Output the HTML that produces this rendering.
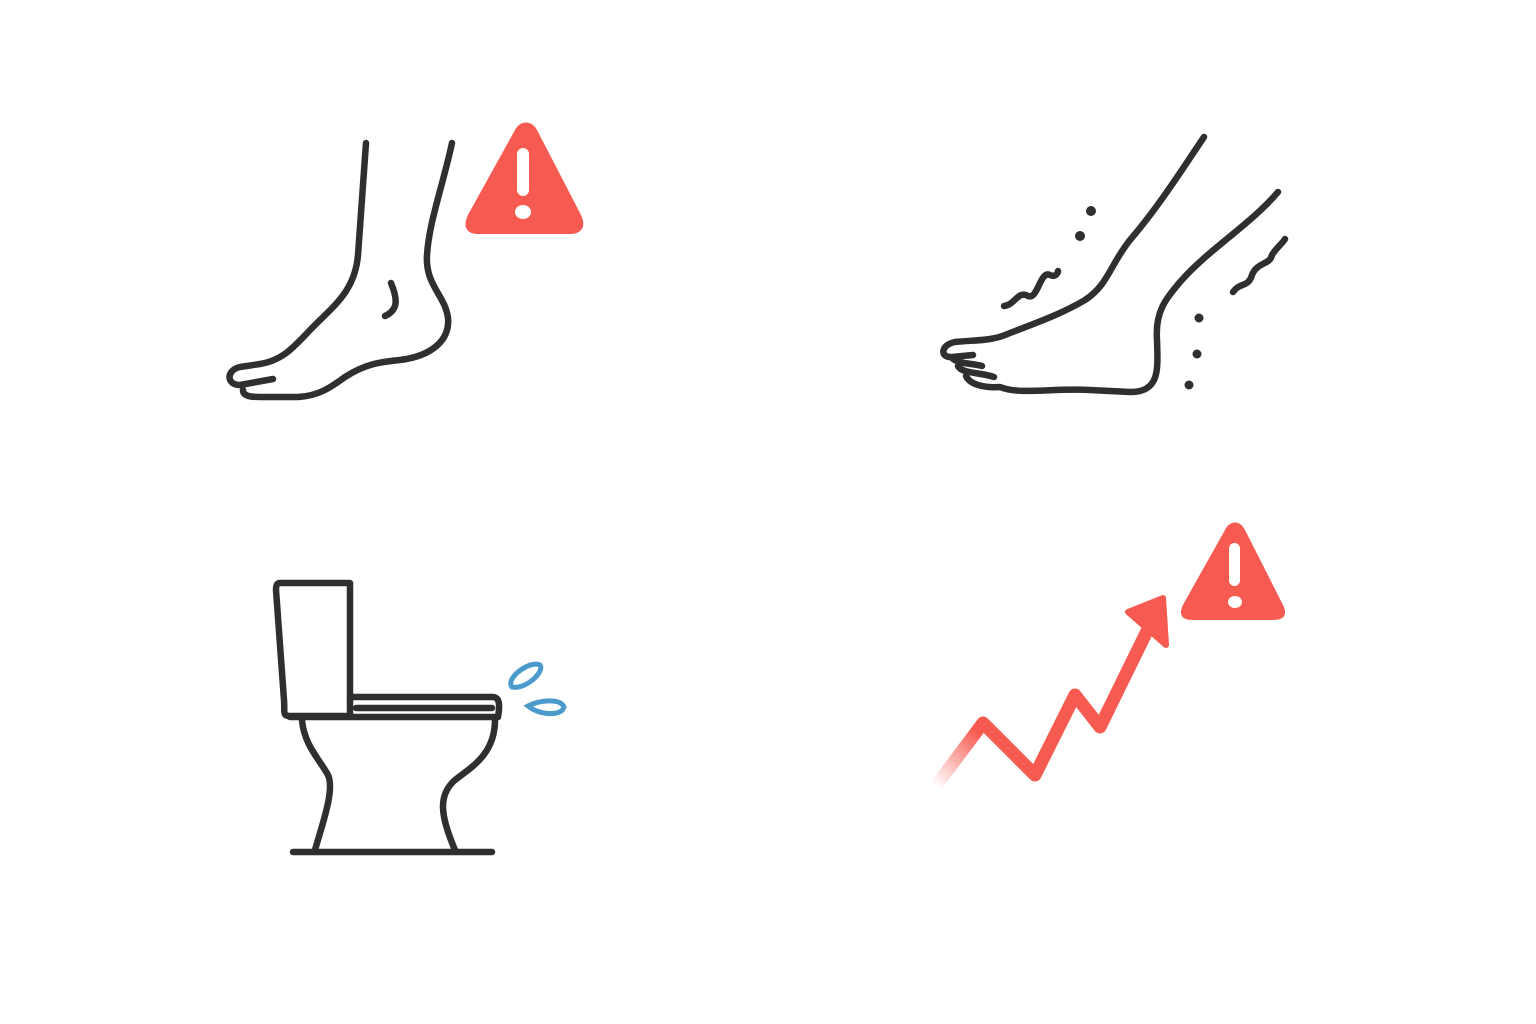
<!DOCTYPE html>
<html><head><style>html,body{margin:0;padding:0;background:#fff}svg{display:block}</style></head>
<body>
<svg width="1536" height="1024" viewBox="0 0 1536 1024" xmlns="http://www.w3.org/2000/svg">
<defs>
<linearGradient id="fade" gradientUnits="userSpaceOnUse" x1="935" y1="785" x2="990" y2="720">
<stop offset="0" stop-color="#f65a50" stop-opacity="0"/>
<stop offset="0.8" stop-color="#f65a50" stop-opacity="1"/>
</linearGradient>
</defs>
<g fill="none" stroke="#2f2f2f" stroke-width="6.5" stroke-linecap="round" stroke-linejoin="round">
<!-- left foot -->
<path d="M366,143 L358,255 C355,290 335,305 315,325 C295,345 285,360 260,364 L240,367 C226,370 226,385 240,385 L273,379"/>
<path d="M243,390 C243,396 250,397 260,397 L298,397 C318,396 330,388 345,377 C365,364 380,362 400,360 C432,356 450,340 448,318 C445,295 425,285 427,255 C429,222 443,185 452,143"/>
<path d="M391,283 C398,300 398,310 385,316"/>
<!-- right foot -->
<path d="M1204,137 C1185,165 1160,205 1130,240 C1110,265 1108,285 1085,300 C1060,315 1030,325 1005,335 C990,341 975,340 955,342 C940,345 940,358 952,357 L973,355"/>
<path d="M952,358 C958,364 970,363 982,366 M958,366 C962,374 980,372 994,377 M966,376 C970,385 985,388 1000,387 C1020,395 1050,388 1090,390 L1130,392 C1160,392 1158,370 1157,340 C1155,312 1165,300 1180,282 C1210,248 1250,225 1278,192"/>
<path d="M1004,306 C1015,305 1018,290 1028,296 C1038,300 1040,270 1050,275 C1056,278 1058,272 1058,271"/>
<path d="M1233,292 C1240,282 1248,288 1252,275 C1257,262 1270,265 1272,255 C1276,248 1282,244 1285,239"/>
<!-- toilet -->
<path d="M280,583 L350,583 L350,716 L290,716 C282,716 285,712 284,700 L276,590 C276,585 277,583 280,583 Z"/>
<path d="M350,697 L492,697 C500,697 500,705 498,717 L290,717"/>
<path d="M356,708 L492,708"/>
<path d="M302,720 C304,745 320,760 328,775 C335,790 322,825 315,850"/>
<path d="M495,720 C495,755 470,768 455,780 C438,795 440,815 455,850"/>
<path d="M293,852 L492,852"/>
</g>
<g fill="#2f2f2f">
<circle cx="1091" cy="211" r="5"/><circle cx="1080" cy="236" r="5"/>
<circle cx="1199" cy="318" r="4.5"/><circle cx="1197" cy="354" r="4.5"/><circle cx="1189" cy="385" r="4.5"/>
</g>
<g fill="none" stroke="#4a9bcb" stroke-width="5">
<path d="M512,687 C505,678 530,660 540,665 C545,672 525,690 512,687 Z"/>
<path d="M528,706 C540,700 560,698 564,707 C562,716 540,716 528,706 Z"/>
</g>
<g fill="#f65a50">
<path d="M515,130 C520,120 532,120 537,130 L580,213 C588,228 580,234 570,234 L478,234 C468,234 461,228 469,213 Z"/>
<path d="M1225,530 C1230,520 1240,520 1245,530 L1282,603 C1289,616 1283,620 1273,620 L1193,620 C1183,620 1177,616 1184,603 Z"/>
</g>
<g fill="#fff">
<rect x="517" y="148" width="12" height="48" rx="6"/><ellipse cx="523" cy="212" rx="8" ry="7"/>
<rect x="1229" y="543" width="11" height="43" rx="5.5"/><ellipse cx="1235" cy="602" rx="7" ry="6"/>
</g>
<path d="M938,783 L983,723" stroke="url(#fade)" stroke-width="13" stroke-linecap="round" fill="none"/>
<path d="M983,723 L1035,775 L1075,695 L1100,727 L1150,625" stroke="#f65a50" stroke-width="13" stroke-linecap="round" stroke-linejoin="round" fill="none"/>
<path d="M1128,612 L1163,598 L1166,645 Z" fill="#f65a50" stroke="#f65a50" stroke-width="6" stroke-linejoin="round"/>
</svg>
</body></html>
